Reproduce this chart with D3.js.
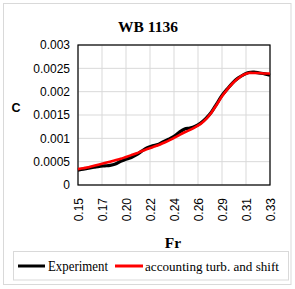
<!DOCTYPE html>
<html><head><meta charset="utf-8">
<script src="https://cdn.jsdelivr.net/npm/d3@7"></script>
<style>body{margin:0;background:#fff}svg{display:block}</style>
</head><body>
<script>
const title = "WB 1136";
const fr = [0.150,0.155,0.160,0.165,0.170,0.175,0.180,0.185,0.190,0.195,0.200,0.205,0.210,0.215,0.220,0.225,0.230,0.235,0.240,0.245,0.250,0.255,0.260,0.265,0.270,0.275,0.280,0.285,0.290,0.295,0.300,0.305,0.310,0.315,0.320,0.325,0.330];
const experiment = [0.32,0.34,0.36,0.38,0.40,0.41,0.42,0.45,0.51,0.55,0.59,0.65,0.73,0.80,0.84,0.87,0.93,0.98,1.04,1.13,1.20,1.22,1.26,1.33,1.43,1.56,1.74,1.92,2.06,2.19,2.29,2.36,2.41,2.42,2.40,2.38,2.35].map(v=>v*1e-3);
const model = [0.34,0.36,0.38,0.41,0.44,0.47,0.50,0.53,0.56,0.60,0.64,0.68,0.73,0.77,0.81,0.85,0.90,0.95,1.01,1.07,1.13,1.18,1.24,1.31,1.41,1.55,1.72,1.90,2.05,2.18,2.28,2.36,2.40,2.40,2.40,2.39,2.39].map(v=>v*1e-3);
const xTickValues = [0.15,0.1725,0.195,0.2175,0.24,0.2625,0.285,0.3075,0.33];
const xTickLabels = ["0.15","0.17","0.20","0.22","0.24","0.26","0.29","0.31","0.33"];
const yTickValues = [0,0.0005,0.001,0.0015,0.002,0.0025,0.003];
const yTickLabels = ["0","0.0005","0.001","0.0015","0.002","0.0025","0.003"];
const seriesNames = ["Experiment","accounting turb. and shift"];
const seriesColors = ["#000000","#ff0000"];

const W=295,H=289;
const svg=d3.select("body").append("svg").attr("width",W).attr("height",H);
svg.append("rect").attr("x",3.5).attr("y",3.5).attr("width",287.5).attr("height",281).attr("fill","#fff").attr("stroke","#d9d9d9");

const L=78,R=270,T=45,B=185;
const x=d3.scaleLinear().domain([0.15,0.33]).range([L,R]);
const y=d3.scaleLinear().domain([0,0.003]).range([B,T]);

// grid
svg.append("g").selectAll("line").data(xTickValues).join("line")
  .attr("x1",d=>x(d)).attr("x2",d=>x(d)).attr("y1",T).attr("y2",B).attr("stroke","#d9d9d9");
svg.append("g").selectAll("line").data(yTickValues).join("line")
  .attr("x1",L).attr("x2",R).attr("y1",d=>y(d)).attr("y2",d=>y(d)).attr("stroke","#d9d9d9");

// y axis
const ya=svg.append("g").attr("transform",`translate(${L},0)`)
  .call(d3.axisLeft(y).tickValues(yTickValues).tickFormat((d,i)=>yTickLabels[i]).tickSize(0).tickPadding(8));
ya.select(".domain").remove();
ya.selectAll("text").attr("font-family","Liberation Sans, Arial").attr("font-size",12).attr("fill","#000");

// x axis
const xa=svg.append("g").attr("transform",`translate(0,${B})`)
  .call(d3.axisBottom(x).tickValues(xTickValues).tickFormat((d,i)=>xTickLabels[i]).tickSize(0));
xa.select(".domain").remove();
xa.selectAll("text").attr("font-family","Liberation Sans, Arial").attr("font-size",12).attr("fill","#000")
  .attr("transform","rotate(-90)").attr("text-anchor","end").attr("x",-13).attr("y",0).attr("dy","0.35em");

// plot border
svg.append("rect").attr("x",L).attr("y",T).attr("width",R-L).attr("height",B-T).attr("fill","none").attr("stroke","#000").attr("stroke-width",1.2);

const line=d3.line().x((d,i)=>x(fr[i])).y(d=>y(d)).curve(d3.curveCatmullRom);
svg.append("path").datum(experiment).attr("d",line).attr("fill","none").attr("stroke",seriesColors[0]).attr("stroke-width",3.2).attr("stroke-linejoin","round");
svg.append("path").datum(model).attr("d",line).attr("fill","none").attr("stroke",seriesColors[1]).attr("stroke-width",2.6).attr("stroke-linejoin","round");

// title & axis titles
svg.append("text").attr("x",148).attr("y",32).attr("text-anchor","middle").attr("font-family","Liberation Serif, Times New Roman").attr("font-weight","bold").attr("font-size",15.5).text(title);
svg.append("text").attr("x",16).attr("y",112).attr("text-anchor","middle").attr("font-family","Liberation Sans, Arial").attr("font-weight","bold").attr("font-size",12.5).text("C");
svg.append("text").attr("x",173).attr("y",248).attr("text-anchor","middle").attr("font-family","Liberation Serif, Times New Roman").attr("font-weight","bold").attr("font-size",15.5).text("Fr");

// legend
svg.append("rect").attr("x",13.5).attr("y",251.5).attr("width",275).attr("height",28.5).attr("fill","#fff").attr("stroke","#d9d9d9");
const lg=[{x1:18,x2:45,tx:48,tw:60,fs:14.5},{x1:115,x2:143,tx:145,tw:134,fs:13}];
lg.forEach((l,i)=>{
  svg.append("line").attr("x1",l.x1).attr("x2",l.x2).attr("y1",266).attr("y2",266).attr("stroke",seriesColors[i]).attr("stroke-width",3);
  svg.append("text").attr("x",l.tx).attr("y",271).attr("font-family","Liberation Serif, Times New Roman").attr("font-size",l.fs)
    .attr("textLength",l.tw).attr("lengthAdjust","spacingAndGlyphs").text(seriesNames[i]);
});
</script>
</body></html>
